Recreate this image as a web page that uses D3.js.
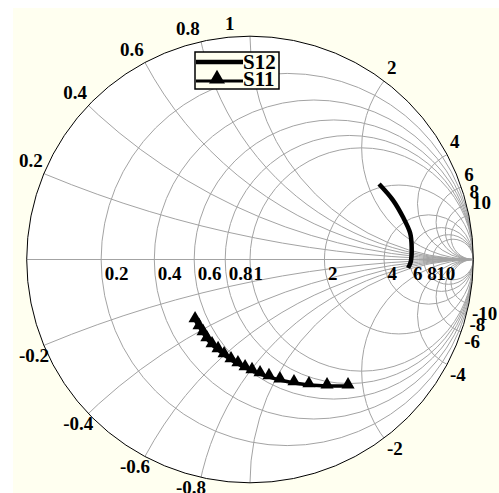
<!DOCTYPE html>
<html><head><meta charset="utf-8">
<script src="https://cdn.jsdelivr.net/npm/d3@7"></script>
<style>body{margin:0;background:#fff}svg{display:block}</style>
</head><body>
<svg id="c" width="499" height="493"></svg>
<script>
// ---- data ----
const resistances = [0.2, 0.4, 0.6, 0.8, 1, 2, 4, 6, 8, 10];
const resistanceLabels = ["0.2", "0.4", "0.6", "0.8", "1", "2", "4", "6", "8", "10"];
const reactances = [0.2, 0.4, 0.6, 0.8, 1, 2, 4, 6, 8, 10];
const reactanceLabels = ["0.2", "0.4", "0.6", "0.8", "1", "2", "4", "6", "8", "10"];
const seriesNames = ["S12", "S11"];
// reflection coefficient (Re, Im)
const s12Re = [0.578, 0.640, 0.685, 0.717, 0.724, 0.720, 0.708];
const s12Im = [0.338, 0.266, 0.190, 0.119, 0.056, -0.010, -0.038];
const s11Re = [-0.246, -0.228, -0.210, -0.193, -0.170, -0.143, -0.116, -0.085, -0.054, -0.022, 0.009, 0.045, 0.085, 0.134, 0.197, 0.264, 0.345, 0.439];
const s11Im = [-0.271, -0.302, -0.329, -0.356, -0.383, -0.405, -0.428, -0.450, -0.468, -0.486, -0.499, -0.513, -0.526, -0.540, -0.553, -0.562, -0.567, -0.567];

// ---- layout ----
const cx = 250, cy = 259.5, R = 223.3;
const sx = d3.scaleLinear().domain([-1, 1]).range([cx - R, cx + R]);
const sy = d3.scaleLinear().domain([-1, 1]).range([cy + R, cy - R]);
const sr = d3.scaleLinear().domain([0, 1]).range([0, R]);
const font = "'Liberation Serif','Times New Roman',serif";
const grid = "#a3a3a3";

const svg = d3.select("#c");
svg.append("rect").attr("x", 13).attr("y", 8).attr("width", 486).attr("height", 485).attr("fill", "#fffff0");

const defs = svg.append("defs");
defs.append("clipPath").attr("id", "uc").append("circle").attr("cx", sx(0)).attr("cy", sy(0)).attr("r", sr(1));

svg.append("circle").attr("cx", sx(0)).attr("cy", sy(0)).attr("r", sr(1)).attr("fill", "#fff");

const g = svg.append("g").attr("clip-path", "url(#uc)");
// resistance circles
g.selectAll(".rc").data(resistances).enter().append("circle")
  .attr("cx", r => sx(r / (r + 1))).attr("cy", sy(0)).attr("r", r => sr(1 / (r + 1)))
  .attr("fill", "none").attr("stroke", grid).attr("stroke-width", 1);
// reactance arcs
const xs = reactances.flatMap(x => [x, -x]);
g.selectAll(".xc").data(xs).enter().append("circle")
  .attr("cx", sx(1)).attr("cy", x => sy(1 / x)).attr("r", x => sr(1 / Math.abs(x)))
  .attr("fill", "none").attr("stroke", grid).attr("stroke-width", 1);
// real axis
svg.append("line").attr("x1", sx(-1)).attr("x2", sx(1)).attr("y1", sy(0)).attr("y2", sy(0))
  .attr("stroke", grid).attr("stroke-width", 1);
// outer circle
svg.append("circle").attr("cx", sx(0)).attr("cy", sy(0)).attr("r", sr(1))
  .attr("fill", "none").attr("stroke", "#000").attr("stroke-width", 1);

// resistance labels
svg.selectAll(".rl").data(resistances).enter().append("text")
  .attr("x", r => sx((r - 1) / (r + 1)) + 3.5).attr("y", sy(0) + 20)
  .attr("font-family", font).attr("font-weight", "bold").attr("font-size", 19)
  .text((r, i) => resistanceLabels[i]);

// reactance labels (the -1 label falls below the visible area in the reference)
const xl = [];
reactances.forEach((x, i) => {
  xl.push({x: x, t: reactanceLabels[i]});
  if (x !== 1) xl.push({x: -x, t: "-" + reactanceLabels[i]});
});
svg.selectAll(".xl").data(xl).enter().append("text")
  .attr("x", d => { const u = (d.x * d.x - 1) / (d.x * d.x + 1); return u <= 0.001 ? sx(u) - 25 : sx(u) + 3; })
  .attr("y", d => { const v = 2 * d.x / (d.x * d.x + 1); return d.x > 0 ? sy(v) - 6.5 : sy(v) + 16.5; })
  .attr("font-family", font).attr("font-weight", "bold").attr("font-size", 19)
  .text(d => d.t);

// S12 curve
const s12 = s12Re.map((u, i) => [u, s12Im[i]]);
svg.append("path").datum(s12)
  .attr("d", d3.line().x(d => sx(d[0])).y(d => sy(d[1])).curve(d3.curveCatmullRom))
  .attr("fill", "none").attr("stroke", "#000").attr("stroke-width", 4.5);

// S11 curve
const s11 = s11Re.map((u, i) => [u, s11Im[i]]);
svg.append("path").datum(s11)
  .attr("d", d3.line().x(d => sx(d[0])).y(d => sy(d[1])))
  .attr("fill", "none").attr("stroke", "#000").attr("stroke-width", 3.5);
const tri = d3.symbol().type(d3.symbolTriangle).size(75);
svg.selectAll(".m").data(s11).enter().append("path")
  .attr("d", tri).attr("transform", d => `translate(${sx(d[0])},${sy(d[1]) - 1.5})`)
  .attr("fill", "#000");

// legend
const lg = svg.append("g");
lg.append("rect").attr("x", 195).attr("y", 52).attr("width", 84).attr("height", 37)
  .attr("fill", "#fffff0").attr("stroke", "#000").attr("stroke-width", 1.5);
lg.append("line").attr("x1", 196).attr("x2", 243).attr("y1", 62).attr("y2", 62)
  .attr("stroke", "#000").attr("stroke-width", 4.5);
lg.append("line").attr("x1", 196).attr("x2", 243).attr("y1", 81).attr("y2", 81)
  .attr("stroke", "#000").attr("stroke-width", 3);
lg.append("path").attr("d", d3.symbol().type(d3.symbolTriangle).size(110)).attr("transform", "translate(217,79)").attr("fill", "#000");
lg.selectAll("text").data(seriesNames).enter().append("text")
  .attr("x", 243).attr("y", (d, i) => 69 + i * 17)
  .attr("font-family", font).attr("font-weight", "bold").attr("font-size", 21)
  .text(d => d);
</script>
</body></html>
